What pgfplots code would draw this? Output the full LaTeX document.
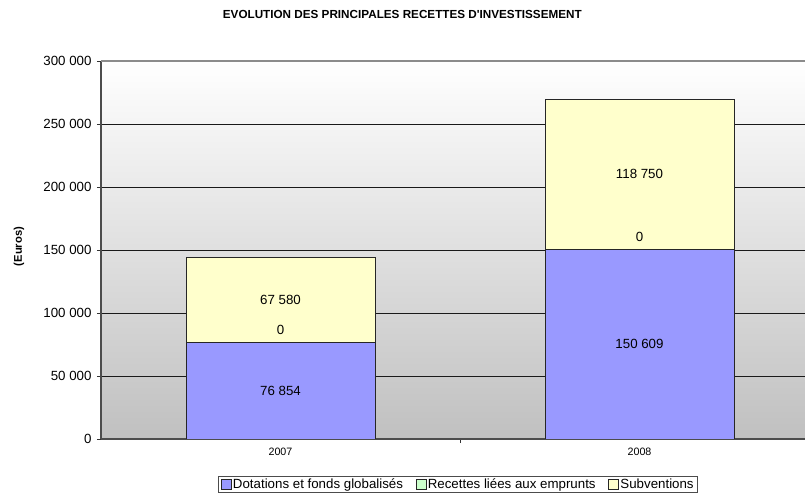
\documentclass[border=0pt]{standalone}
\usepackage{fontspec}
\setmainfont{Liberation Sans}[Ligatures=TeXReset]
\usepackage{pgfplots}
\usepackage{pgfplotstable}
\pgfplotsset{compat=1.18}
\definecolor{cblue}{RGB}{153,153,255}
\definecolor{cgreen}{RGB}{204,255,204}
\definecolor{cyellow}{RGB}{255,255,204}
\definecolor{bgbot}{RGB}{192,192,192}
\pgfplotstableread{
x dot emp sub
0 76854 0 67580
1 150609 0 118750
}\data
\pgfplotsset{common/.style={
  at={(101bp,57bp)}, anchor=south west, scale only axis,
  width=704bp, height=378bp,
  xmin=-0.5, xmax=1.461, ymin=0, ymax=300000,
  /pgf/number format/.cd, fixed, precision=0, 1000 sep={\ }, assume math mode=true, /pgfplots/.cd,
}}
\newcommand{\fa}{\fontsize{13.3bp}{15bp}\selectfont}
\newcommand{\fb}{\fontsize{10.7bp}{12bp}\selectfont}
\newcommand{\ft}{\fontsize{11.7bp}{13bp}\selectfont}
\newcommand{\fy}{\fontsize{11.2bp}{13bp}\selectfont}
\begin{document}
\begin{tikzpicture}
\useasboundingbox (0,0) rectangle (805bp,496bp);
\begin{axis}[common,
  ybar stacked, bar width=189bp,
  axis background/.style={shade, top color=white, bottom color=bgbot},
  axis x line*=bottom, axis y line*=left,
  axis line style={-, draw=black!70, line width=1.2bp},
  ytick={0,50000,100000,150000,200000,250000},
  extra y ticks={300000},
  extra y tick style={grid style={draw=black!45, line width=1.2bp}},
  ymajorgrids, grid style={draw=black!90, line width=0.8bp},
  scaled y ticks=false,
  tick align=outside, major tick length=4bp,
  tick style={draw=black!80, line width=0.8bp},
  yticklabel style={font=\fa, xshift=-2bp},
  xtick={0.5}, xticklabels={},
  extra x ticks={0,1}, extra x tick labels={2007,2008},
  extra x tick style={major tick length=0bp, xticklabel style={font=\fb, yshift=-6bp}},
  title={EVOLUTION DES PRINCIPALES RECETTES D'INVESTISSEMENT},
  title style={at={(0.428,1.106)}, anchor=center, font=\bfseries\ft},
  ylabel={(Euros)},
  ylabel style={at={(-0.1165,0.509)}, anchor=center, font=\bfseries\fy},
  legend columns=3,
  legend style={at={(0.507,-0.120)}, anchor=center, draw=black!70, line width=0.8bp,
    font=\fa, inner xsep=2bp, inner ysep=1bp,
    /tikz/every even column/.style={column sep=11bp},
    /tikz/every odd column/.style={column sep=0bp},
    nodes={inner xsep=1.5bp, inner ysep=1.5bp}},
  every axis plot post/.append style={legend image code/.code={\draw[#1, line width=0.8bp] (0bp,-5bp) rectangle (10bp,5bp);}},
]
\addplot[fill=cblue, draw=black!85, line width=0.8bp] table[x=x, y=dot]{\data};
\addplot[fill=cgreen, draw=black!85, line width=0.8bp] table[x=x, y=emp]{\data};
\addplot[fill=cyellow, draw=black!85, line width=0.8bp] table[x=x, y=sub]{\data};
\legend{Dotations et fonds globalisés, Recettes liées aux emprunts, Subventions}
\end{axis}
\begin{axis}[common, hide axis, nodes near coords, point meta=explicit,
  every node near coord/.append style={font=\fa, anchor=center, black}]
\addplot[draw=none, mark=none] table[x=x, y expr=\thisrow{dot}/2, meta=dot]{\data};
\addplot[draw=none, mark=none] table[x=x, y expr=\thisrow{dot}+\thisrow{emp}+\thisrow{sub}/2, meta=sub]{\data};
\addplot[draw=none, mark=none, every node near coord/.append style={yshift=12bp}] table[x=x, y expr=\thisrow{dot}+\thisrow{emp}, meta=emp]{\data};
\end{axis}
\end{tikzpicture}
\end{document}
